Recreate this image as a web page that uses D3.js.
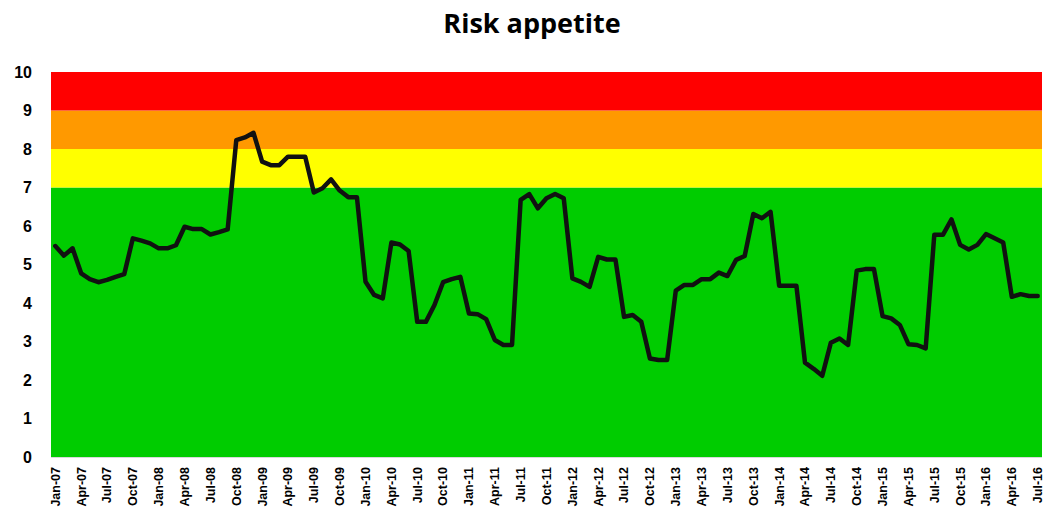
<!DOCTYPE html>
<html><head><meta charset="utf-8">
<script src="https://cdn.jsdelivr.net/npm/d3@7"></script>
<style>body{margin:0;background:#fff}svg{display:block}</style>
</head><body>
<svg id="c" width="1044" height="518"></svg>
<script>
const monthNames = ["Jan","Feb","Mar","Apr","May","Jun","Jul","Aug","Sep","Oct","Nov","Dec"];
const categories = [];
for (let y = 2007; y <= 2016; y++) for (let m = 0; m < 12; m++) {
  if (y === 2016 && m > 6) break;
  categories.push(monthNames[m] + "-" + String(y).slice(2));
}
const values = [
  5.48,5.23,5.42,4.77,4.62,4.54,4.60,4.68,4.75,5.68,5.62,5.55,
  5.42,5.42,5.50,5.98,5.92,5.92,5.78,5.84,5.91,8.23,8.30,8.42,
  7.67,7.58,7.58,7.80,7.80,7.80,6.87,6.98,7.21,6.92,6.75,6.75,
  4.55,4.21,4.12,5.57,5.52,5.35,3.51,3.51,3.95,4.54,4.62,4.68,
  3.73,3.71,3.58,3.04,2.91,2.91,6.68,6.83,6.46,6.72,6.83,6.72,
  4.64,4.55,4.42,5.20,5.13,5.13,3.64,3.69,3.51,2.56,2.52,2.52,
  4.32,4.47,4.47,4.62,4.62,4.79,4.70,5.12,5.22,6.31,6.20,6.37,
  4.45,4.45,4.45,2.45,2.29,2.11,2.97,3.08,2.91,4.84,4.88,4.88,
  3.66,3.60,3.43,2.93,2.91,2.82,5.77,5.77,6.17,5.51,5.39,5.51,
  5.79,5.68,5.57,4.16,4.23,4.18,4.18
];
const bandFrom = [0, 7, 8, 9];
const bandTo = [7, 8, 9, 10];
const bandColors = ["#00CC00", "#FFFF00", "#FF9900", "#FF0000"];
const yTicks = [0,1,2,3,4,5,6,7,8,9,10];
const xTickLabels = categories.filter((d, i) => i % 3 === 0);

const svg = d3.select("#c");
const L = 51, R = 1042, T = 72, B = 457;
const x = d3.scaleBand().domain(categories).range([L, R]);
const y = d3.scaleLinear().domain([0, 10]).range([B, T]);
const cx = d => x(d) + x.bandwidth() / 2;

svg.append("g").selectAll("rect").data(bandFrom).join("rect")
  .attr("x", L).attr("width", R - L)
  .attr("y", (d, i) => y(bandTo[i])).attr("height", (d, i) => y(d) - y(bandTo[i]))
  .attr("fill", (d, i) => bandColors[i]);

svg.append("line").attr("x1", L).attr("x2", R).attr("y1", B + 0.5).attr("y2", B + 0.5)
  .attr("stroke", "#d9d9d9").attr("stroke-width", 1);

const line = d3.line().x((d, i) => cx(categories[i])).y(d => y(d));
svg.append("path").datum(values).attr("d", line).attr("fill", "none")
  .attr("stroke", "#111").attr("stroke-width", 4.5).attr("stroke-linejoin", "round").attr("stroke-linecap", "round");

const font = "'Liberation Sans', Arial, sans-serif";
const yAxis = svg.append("g").attr("transform", `translate(${L},0)`)
  .call(d3.axisLeft(y).tickValues(yTicks).tickSize(0).tickPadding(19).tickFormat(d3.format("d")));
yAxis.select(".domain").remove();
yAxis.selectAll("text").attr("font-family", font).attr("font-size", 16).attr("font-weight", "bold").attr("fill", "#000");

const xAxis = svg.append("g").attr("transform", `translate(0,${B})`)
  .call(d3.axisBottom(x).tickValues(xTickLabels).tickSize(0).tickPadding(0));
xAxis.select(".domain").remove();
xAxis.selectAll("text").attr("font-family", font).attr("font-size", 12.5).attr("font-weight", "bold").attr("fill", "#000")
  .attr("transform", "rotate(-90)").attr("text-anchor", "end").attr("x", -10).attr("y", 0).attr("dy", "0.35em");

svg.append("text").attr("x", 532).attr("y", 33).attr("text-anchor", "middle")
  .attr("font-family", "'Open Sans', 'Liberation Sans', sans-serif").attr("font-weight", "bold").attr("font-size", 27)
  .attr("fill", "#000").text("Risk appetite");
</script>
</body></html>
